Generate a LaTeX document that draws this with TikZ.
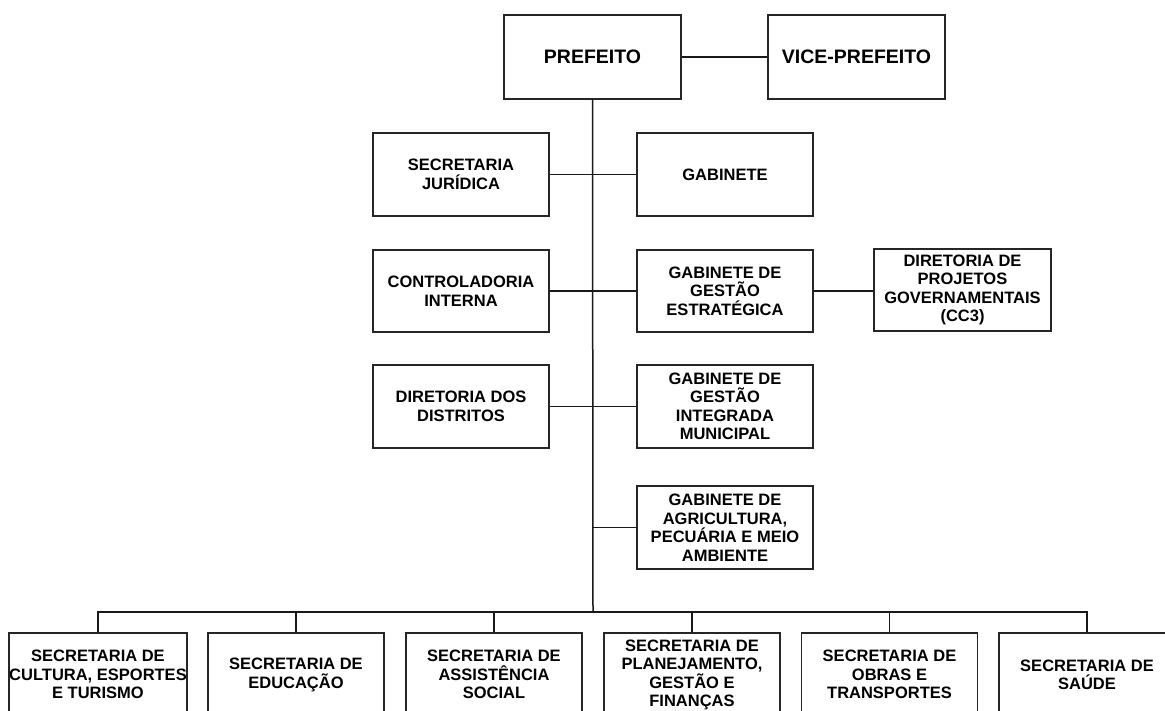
\documentclass[tikz,border=0pt]{standalone}
\usepackage{fontspec}
\setmainfont{Liberation Sans}
\begin{document}
\begin{tikzpicture}[x=1pt,y=-1pt,
  box/.style={draw=black!85, line width=1.6pt, fill=white, inner sep=0pt, align=center,
    minimum width=176pt, minimum height=83pt,
    font=\fontsize{16.5}{18.5}\selectfont\bfseries},
  topbox/.style={box, minimum width=177pt, minimum height=84pt,
    font=\fontsize{19.5}{22}\selectfont\bfseries},
  lowbox/.style={box, anchor=north, minimum height=84pt},
  conn/.style={draw=black!90, line width=1.5pt}]
\useasboundingbox (0,0) rectangle (1165,711);
\clip (0,0) rectangle (1165,711);
\fill[white] (0,0) rectangle (1165,711);

% top
\node[topbox] (pref) at (592.5,57) {PREFEITO};
\node[topbox] (vice) at (856.5,57) {VICE-PREFEITO};

% middle
\node[box] (jur) at (461,174.5) {SECRETARIA\\JURÍDICA};
\node[box] (gab) at (725,174.5) {GABINETE};
\node[box, minimum height=82pt] (ctrl) at (461,291) {CONTROLADORIA\\INTERNA};
\node[box, minimum height=82pt] (gge) at (725,291) {GABINETE DE\\GESTÃO\\ESTRATÉGICA};
\node[box, minimum width=177pt, minimum height=82pt] (proj) at (962.5,290) {DIRETORIA DE\\PROJETOS\\GOVERNAMENTAIS\\(CC3)};
\node[box] (dist) at (461,406.5) {DIRETORIA DOS\\DISTRITOS};
\node[box] (ggim) at (725,406.5) {GABINETE DE\\GESTÃO\\INTEGRADA\\MUNICIPAL};
\node[box] (agric) at (725,527.5) {GABINETE DE\\AGRICULTURA,\\PECUÁRIA E MEIO\\AMBIENTE};

% bottom
\coordinate (bus) at (593,612);
\node[lowbox] (b1) at (98,632) {SECRETARIA DE\\CULTURA, ESPORTES\\E TURISMO};
\node[lowbox] (b2) at (296,632) {SECRETARIA DE\\EDUCAÇÃO};
\node[lowbox] (b3) at (494,632) {SECRETARIA DE\\ASSISTÊNCIA\\SOCIAL};
\node[lowbox] (b4) at (692,632) {SECRETARIA DE\\PLANEJAMENTO,\\GESTÃO E\\FINANÇAS};
\node[lowbox] (b5) at (889.5,632) {SECRETARIA DE\\OBRAS E\\TRANSPORTES};
\node[lowbox] (b6) at (1087,632) {SECRETARIA DE\\SAÚDE};

% connectors
\draw[conn] (pref.east) -- (vice.west);
\draw[conn] (pref.south) -- (bus);
\draw[conn] (jur.east) -- (gab.west);
\draw[conn] (ctrl.east) -- (gge.west);
\draw[conn] (gge.east) -- (gge.east -| proj.west);
\draw[conn] (dist.east) -- (ggim.west);
\draw[conn] (agric.west) -- (agric.west -| bus);
\draw[conn] (b1.north) -- (b1.north |- bus) -- (b6.north |- bus) -- (b6.north);
\foreach \b in {b2,b3,b4,b5} \draw[conn] (\b.north) -- (\b.north |- bus);
\end{tikzpicture}
\end{document}
